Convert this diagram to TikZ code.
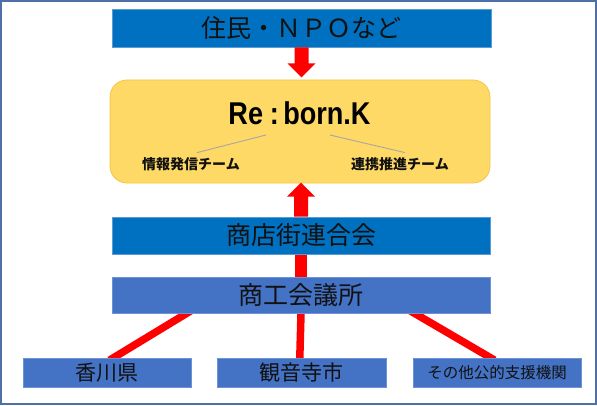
\documentclass[tikz,border=0pt]{standalone}
\usepackage{fontspec}
\setmainfont{Noto Sans CJK JP}
\newfontfamily\titlefont{Liberation Sans}
\usetikzlibrary{calc,backgrounds}
\definecolor{darkblue}{HTML}{0070C0}
\definecolor{darkblueedge}{HTML}{5B9BD5}
\definecolor{midblue}{HTML}{4472C4}
\definecolor{midblueedge}{HTML}{6E92D6}
\definecolor{yellowfill}{HTML}{FFD966}
\definecolor{yellowedge}{HTML}{F6C445}
\definecolor{framecol}{HTML}{4F6FA8}
\definecolor{arrowred}{HTML}{FF0000}
\definecolor{textdark}{HTML}{111111}
\definecolor{thingray}{HTML}{A6A6A6}
\tikzset{
  dbox/.style={rectangle, fill=darkblue, draw=darkblueedge, line width=0.8pt, inner sep=0pt, text=textdark},
  mbox/.style={rectangle, fill=midblue, draw=midblueedge, line width=0.8pt, inner sep=0pt, text=textdark},
  ybox/.style={rectangle, rounded corners=17pt, fill=yellowfill, draw=yellowedge, line width=0.8pt, inner sep=0pt},
  teamlabel/.style={inner xsep=0pt, inner ysep=4.5pt, font=\fontsize{14}{14}\bfseries\selectfont, text=textdark},
  redline/.style={draw=arrowred, line cap=butt},
  grayline/.style={draw=thingray, line width=0.9pt}
}
\begin{document}
\begin{tikzpicture}[x=1pt,y=1pt]
\useasboundingbox (0,0) rectangle (597,405);
\draw[framecol, line width=1.5pt] (1,1) rectangle (596,404);

% boxes
\node[dbox, minimum width=379pt, minimum height=38pt, font=\fontsize{25}{25}\selectfont] (npo) at (301.5,377) {住民・ＮＰＯなど};
\node[ybox, minimum width=380pt, minimum height=103pt] (reborn) at (300,273.5) {};
\node[font=\titlefont\fontsize{31.5}{31.5}\bfseries\selectfont, text=black, inner sep=0pt] (title) at (299.5,291.5)
  {\scalebox{0.86}[1]{Re\hspace{8pt}:\hspace{5pt}born.K}};
\node[teamlabel] (info) at (191,241) {情報発信チーム};
\node[teamlabel] (renkei) at (400,241) {連携推進チーム};
\node[dbox, minimum width=378pt, minimum height=37pt, font=\fontsize{25}{25}\selectfont] (shoten) at (301,169.5) {商店街連合会};
\node[mbox, minimum width=378pt, minimum height=36pt, font=\fontsize{25}{25}\selectfont] (shoko) at (301,110) {商工会議所};
\node[mbox, minimum width=168pt, minimum height=29pt, font=\fontsize{21}{21}\selectfont] (kagawa) at (107,32.5) {香川県};
\node[mbox, minimum width=169pt, minimum height=29pt, font=\fontsize{21}{21}\selectfont] (kannon) at (301.5,32.5) {観音寺市};
\node[mbox, minimum width=168pt, minimum height=29pt, font=\fontsize{15.5}{15.5}\selectfont] (other) at (497,32.5) {その他公的支援機関};

% gray connector lines
\coordinate (g1) at (266,270);
\coordinate (g2) at (330,270);
\draw[grayline] (g1) -- ([xshift=6pt]info.north);
\draw[grayline] (g2) -- ([xshift=5pt]renkei.north);

% red connectors behind boxes
\begin{pgfonlayer}{background}
\draw[redline, line width=12pt] ([yshift=3pt]shoten.south) -- ([yshift=-3pt]shoko.north);
\draw[redline, line width=7.5pt, shorten <=-5pt, shorten >=-5pt]
  ($(shoko.south west)!0.198!(shoko.south east)$) -- ($(kagawa.north west)!0.54!(kagawa.north east)$);
\draw[redline, line width=7.5pt, shorten <=-5pt, shorten >=-5pt]
  ($(shoko.south west)!0.5!(shoko.south east)$) -- ($(kannon.north west)!0.49!(kannon.north east)$);
\draw[redline, line width=7.5pt, shorten <=-5pt, shorten >=-5pt]
  ($(shoko.south west)!0.80!(shoko.south east)$) -- ($(other.north west)!0.46!(other.north east)$);
\end{pgfonlayer}

% block arrows
\fill[arrowred] ($(npo.south)+(-7,0)$) -- ++(0,-16) -- ++(-7,0) -- ($(npo.south)+(0,-30)$)
  -- ($(npo.south)+(14,-16)$) -- ++(-7,0) -- ($(npo.south)+(7,0)$) -- cycle;
\fill[arrowred] ($(shoten.north)+(-7,0)$) -- ++(0,20) -- ++(-7,0) -- ($(shoten.north)+(0,34)$)
  -- ($(shoten.north)+(14,20)$) -- ++(-7,0) -- ($(shoten.north)+(7,0)$) -- cycle;
\end{tikzpicture}
\end{document}
